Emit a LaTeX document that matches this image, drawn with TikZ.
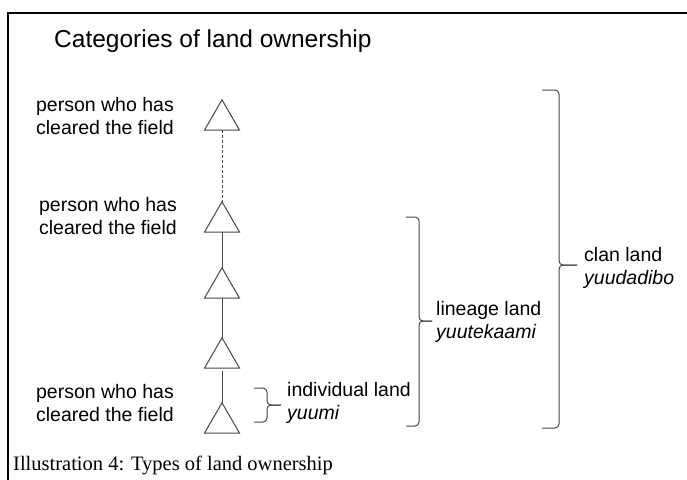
\documentclass[tikz,border=0pt]{standalone}
\usepackage{fontspec}
\setmainfont{Liberation Sans}
\newfontfamily\captionserif{Liberation Serif}
\usetikzlibrary{shapes.geometric}

\definecolor{linegray}{HTML}{454545}
\tikzset{
  person/.style={regular polygon, regular polygon sides=3, draw=linegray,
    line width=1pt, minimum size=40.4pt, inner sep=0pt, outer sep=0pt},
  desc/.style={font=\fontsize{19.5}{22.5}\selectfont, align=left, inner sep=0pt},
  link/.style={draw=linegray, line width=1pt},
  bracket/.style={draw=linegray, line width=1pt, rounded corners=4pt},
}

\begin{document}
\begin{tikzpicture}[x=1pt,y=-1pt]
  \useasboundingbox (0,0) rectangle (687,479);
  \draw[line width=2pt] (8,490) -- (8,13) -- (700,13);
  \node[anchor=west, inner sep=0pt, font=\fontsize{24.5}{28}\selectfont] (title) at (54,41) {Categories of land ownership};

  % persons
  \node[person] (t1) at (222,120) {};
  \node[person] (t2) at (222,222) {};
  \node[person] (t3) at (222,288) {};
  \node[person] (t4) at (222,358) {};
  \node[person] (t5) at (222,423) {};
  \draw[link, dash pattern=on 3pt off 2pt] (t1.south) -- (t2.north);
  \draw[link] (t2.south) -- (t3.north);
  \draw[link] (t3.south) -- (t4.north);
  \draw[link, shorten <=3pt] (t4.south) -- (t5.north);

  \node[desc, anchor=east] (p1) at (174,116) {person who has\\cleared the field};
  \node[desc, anchor=east] (p2) at (177,216) {person who has\\cleared the field};
  \node[desc, anchor=east] (p3) at (174,403) {person who has\\cleared the field};

  % brackets
  \draw[bracket] (254,388) -- (267,388) -- (267,405) -- (281,405);
  \draw[bracket] (254,422) -- (267,422) -- (267,405) -- (281,405);
  \draw[bracket] (406,217) -- (419,217) -- (419,321) -- (432,321);
  \draw[bracket] (406,426) -- (419,426) -- (419,321) -- (432,321);
  \draw[bracket] (542,90) -- (559,90) -- (559,265) -- (577,265);
  \draw[bracket] (542,428) -- (559,428) -- (559,265) -- (577,265);

  \node[desc, anchor=west] (own1) at (287,403) {individual land\\\textit{yuumi}};
  \node[desc, anchor=west] (own2) at (436,322) {lineage land\\\textit{yuutekaami}};
  \node[desc, anchor=west] (own3) at (584,268) {clan land\\\textit{yuudadibo}};

  \node[anchor=west, inner sep=0pt, font=\captionserif\fontsize{20.5}{24}\selectfont] (cap) at (13,465) {Illustration 4: Types of land ownership};
\end{tikzpicture}
\end{document}
